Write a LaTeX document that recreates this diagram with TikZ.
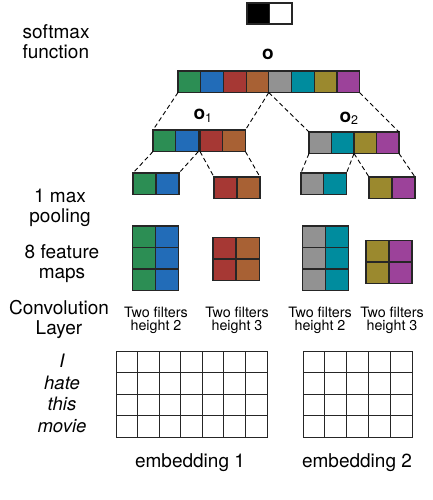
\documentclass[tikz,border=0pt]{standalone}
\usepackage{fontspec}
\setmainfont{TeX Gyre Heros}
\usetikzlibrary{positioning}
\definecolor{cgreen}{RGB}{44,142,84}
\definecolor{cblue}{RGB}{34,108,184}
\definecolor{cred}{RGB}{166,56,52}
\definecolor{corange}{RGB}{168,97,52}
\definecolor{cgray}{RGB}{146,146,146}
\definecolor{cteal}{RGB}{0,140,158}
\definecolor{colive}{RGB}{155,137,46}
\definecolor{cpurple}{RGB}{156,66,154}
\tikzset{
  cell/.style={draw=black!85, line width=1.2pt, fill=#1, minimum width=22.7pt, minimum height=21.5pt, inner sep=0pt, outer sep=0pt, anchor=north west},
  link/.style={dash pattern=on 4.5pt off 3pt, line width=0.9pt},
  big/.style={font=\fontsize{19}{20}\selectfont, align=center},
  small/.style={font=\fontsize{14.3}{13.5}\selectfont, align=center},
  wordcol/.style={font=\fontsize{18.5}{21.5}\selectfont\itshape, align=center},
  emb/.style={draw=black!85, line width=1pt, minimum height=86pt, inner sep=0pt, outer sep=0pt, anchor=north west}
}
\begin{document}
\begin{tikzpicture}[x=1pt,y=-1pt]
\useasboundingbox (0,0) rectangle (432,500);

\node[cell=black, minimum width=22.5pt, minimum height=21pt] (s1) at (247,3) {};
\node[cell=white, minimum width=22.5pt, minimum height=21pt] (s2) at (269.5,3) {};

\foreach \c [count=\i] in {cgreen,cblue,cred,corange,cgray,cteal,colive,cpurple}
\node[cell=\c] (o\i) at ({178+(\i-1)*22.7},71) {};

\foreach \c/\x [count=\i] in {cgreen/153,cblue/175.7,cred/200,corange/222.7}
\node[cell=\c] (a\i) at (\x,130) {};
\foreach \c/\x [count=\i] in {cgray/309,cteal/331.5,colive/354,cpurple/376.5}
\node[cell=\c, minimum width=22.5pt] (b\i) at (\x,132) {};

\foreach \c/\x/\y [count=\i] in {cgreen/133/173,cblue/156/173,cred/214/177,corange/237/177,cgray/301/173,cteal/323.5/173,colive/369/177,cpurple/392/177}
\node[cell=\c, minimum width=23pt] (p\i) at (\x,\y) {};

\foreach \c/\x/\y/\n [count=\i] in {cgreen/132.5/226/3,cblue/155.8/226/3,cred/213/237.5/2,corange/236.3/237.5/2,cgray/302.5/226/3,cteal/325.3/226/3,colive/366/240.5/2,cpurple/389/240.5/2}
\foreach \r in {1,...,\n}
\node[cell=\c, minimum width=23pt] (f\i-\r) at (\x,{\y+(\r-1)*21.5}) {};

\foreach \u/\v in {o1.south west/a1.north west,o4.south east/a4.north east,o5.south west/b1.north west,o8.south east/b4.north east}
\draw[link] (\u) -- (\v);
\foreach \u/\v in {a1.south west/p1.north west,a2.south east/p2.north east,a3.south west/p3.north west,a4.south east/p4.north east,b1.south west/p5.north west,b2.south east/p6.north east,b3.south west/p7.north west,b4.south east/p8.north east}
\draw[link] (\u) -- (\v);

\node[emb, minimum width=151pt] (e1) at (116,351) {};
\foreach \k in {1,...,6}
\draw[line width=1pt, black!85] (e1.north west) ++(\k*21.57,0) -- ++(0,86);
\foreach \k in {1,2,3}
\draw[line width=1pt, black!85] (e1.north west) ++(0,\k*21.5) -- ++(151,0);
\node[emb, minimum width=109pt] (e2) at (303,351) {};
\foreach \k in {1,...,4}
\draw[line width=1pt, black!85] (e2.north west) ++(\k*21.8,0) -- ++(0,86);
\foreach \k in {1,2,3}
\draw[line width=1pt, black!85] (e2.north west) ++(0,\k*21.5) -- ++(109,0);

\node[big, font=\bfseries\fontsize{19}{20}\selectfont] (olbl) at (268,54) {o};
\node[big, anchor=base west] (o1lbl) at (190,120) {\textbf{o}\raisebox{-2.5pt}{\fontsize{12.5}{13}\selectfont 1}};
\node[big, anchor=base west] (o2lbl) at (336,122) {\textbf{o}\raisebox{-2.5pt}{\fontsize{12.5}{13}\selectfont 2}};

% base anchor of a two-line node sits on its last line
\node[big, align=left, anchor=base west] (softlbl) at (19,59) {softmax\\function};
\node[big, anchor=base] (poollbl) at (60,222.5) {1 max\\pooling};
\node[big, anchor=base] (featlbl) at (62,278) {8 feature\\maps};
\node[big, anchor=base] (convlbl) at (59,334) {Convolution\\Layer};
\node[wordcol, anchor=base] (words) at (62,432) {I\\hate\\this\\movie};

\foreach \x/\h [count=\i] in {156/2,237/3,320/2,392/3}
\node[small, anchor=base] (filt\i) at (\x,330.5) {Two filters\\height \h};

\node[big, anchor=base] (emb1lbl) at (190,467) {embedding 1};
\node[big, anchor=base] (emb2lbl) at (357,467) {embedding 2};
\end{tikzpicture}
\end{document}
